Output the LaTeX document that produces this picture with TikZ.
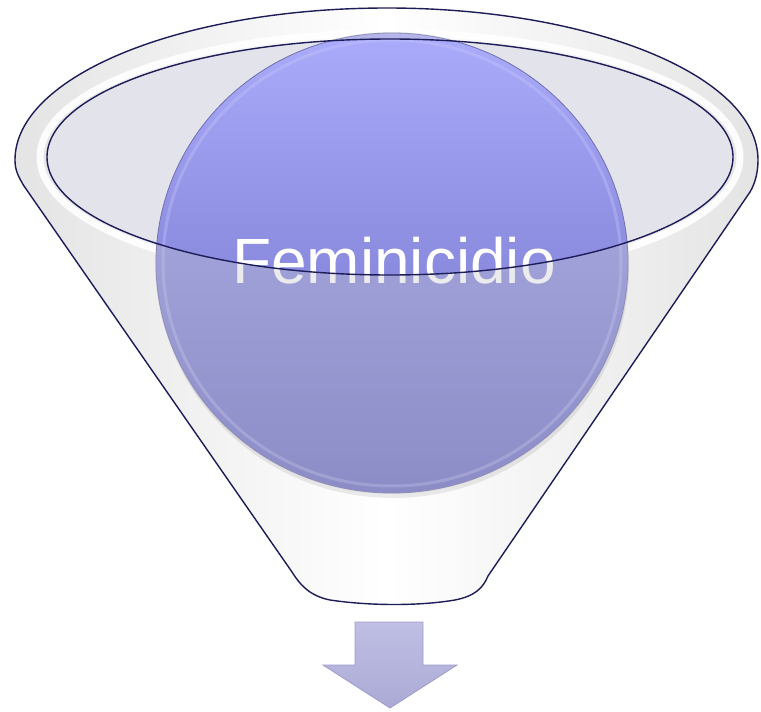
\documentclass[tikz,border=0pt]{standalone}
\usepackage{fontspec}
\setmainfont{Liberation Sans}
\usetikzlibrary{calc}
\definecolor{navy}{HTML}{1C1C58}
\definecolor{rimgrey}{HTML}{E4E4E4}
\definecolor{innerfill}{HTML}{E3E3EB}
\definecolor{ctop}{HTML}{ABABFB}
\definecolor{cbot}{HTML}{6C6CC4}
\definecolor{cedge}{HTML}{7070B0}
\definecolor{cring}{HTML}{C8C8FA}
\definecolor{veil}{HTML}{C8C8CC}
\definecolor{atop}{HTML}{BFBFE4}
\definecolor{abot}{HTML}{AAAAD6}
\definecolor{aedge}{HTML}{9C9CCB}
\tikzset{
  outline/.style={draw=navy, line width=1.4pt},
  funnelbody/.style={left color=rimgrey, right color=rimgrey, middle color=white},
  frontveil/.style={fill=veil, fill opacity=0.35},
  ballshade/.style={top color=ctop, bottom color=cbot},
  arrowbox/.style={top color=atop, bottom color=abot, draw=aedge, line width=0.8pt, line join=miter},
  labeltext/.style={text=white, font=\fontsize{64}{70}\selectfont, inner sep=0pt}
}
\def\funnelpath{(15,160) .. controls (15,170) and (18,176) .. (24,186) -- (292,572)
  .. controls (300,585) and (310,596) .. (330,600)
  .. controls (370,606) and (420,606) .. (455,600)
  .. controls (475,596) and (483,588) .. (488,576) -- (750,192)
  .. controls (756,182) and (758,170) .. (758,160)
  .. controls (758,76) and (592,8) .. (387,8)
  .. controls (182,8) and (15,76) .. (15,160) -- cycle}
\begin{document}
\begin{tikzpicture}[x=1pt,y=-1pt]
\useasboundingbox (0,0) rectangle (761,712);
\coordinate (rimc) at (390,157);
\coordinate (ballc) at (392,263);
% funnel body
\shade[funnelbody] \funnelpath;
% rim highlight
\draw[white, line width=7pt, opacity=0.9] (rimc) ellipse [x radius=350, y radius=124];
% inner opening
\fill[innerfill] (rimc) ellipse [x radius=343, y radius=118];
% ball shadow
\fill[black, opacity=0.08] ($(ballc)+(1,5)$) ellipse [x radius=236, y radius=230];
% ball
\shade[ballshade] (ballc) ellipse [x radius=236, y radius=230];
\draw[cring, line width=3pt, opacity=0.35] (ballc) ellipse [x radius=229, y radius=223];
\draw[cedge, line width=0.8pt] (ballc) ellipse [x radius=236, y radius=230];
% label
\node[labeltext, anchor=base] (label) at (394,283) {Feminicidio};
% front of funnel over the ball
\begin{scope}
  \clip (ballc) ellipse [x radius=237, y radius=231];
  \fill[frontveil, even odd rule] \funnelpath (rimc) ellipse [x radius=343, y radius=118];
\end{scope}
% outlines
\draw[outline] \funnelpath;
\draw[outline] (rimc) ellipse [x radius=343, y radius=118];
% arrow
\coordinate (a1) at (355,622);
\coordinate (a2) at (423,622);
\coordinate (a3) at (423,665);
\coordinate (a4) at (457,665);
\coordinate (a5) at (390,708);
\coordinate (a6) at (323,665);
\coordinate (a7) at (355,665);
\shade[arrowbox] (a1) -- (a2) -- (a3) -- (a4) -- (a5) -- (a6) -- (a7) -- cycle;
\end{tikzpicture}
\end{document}
